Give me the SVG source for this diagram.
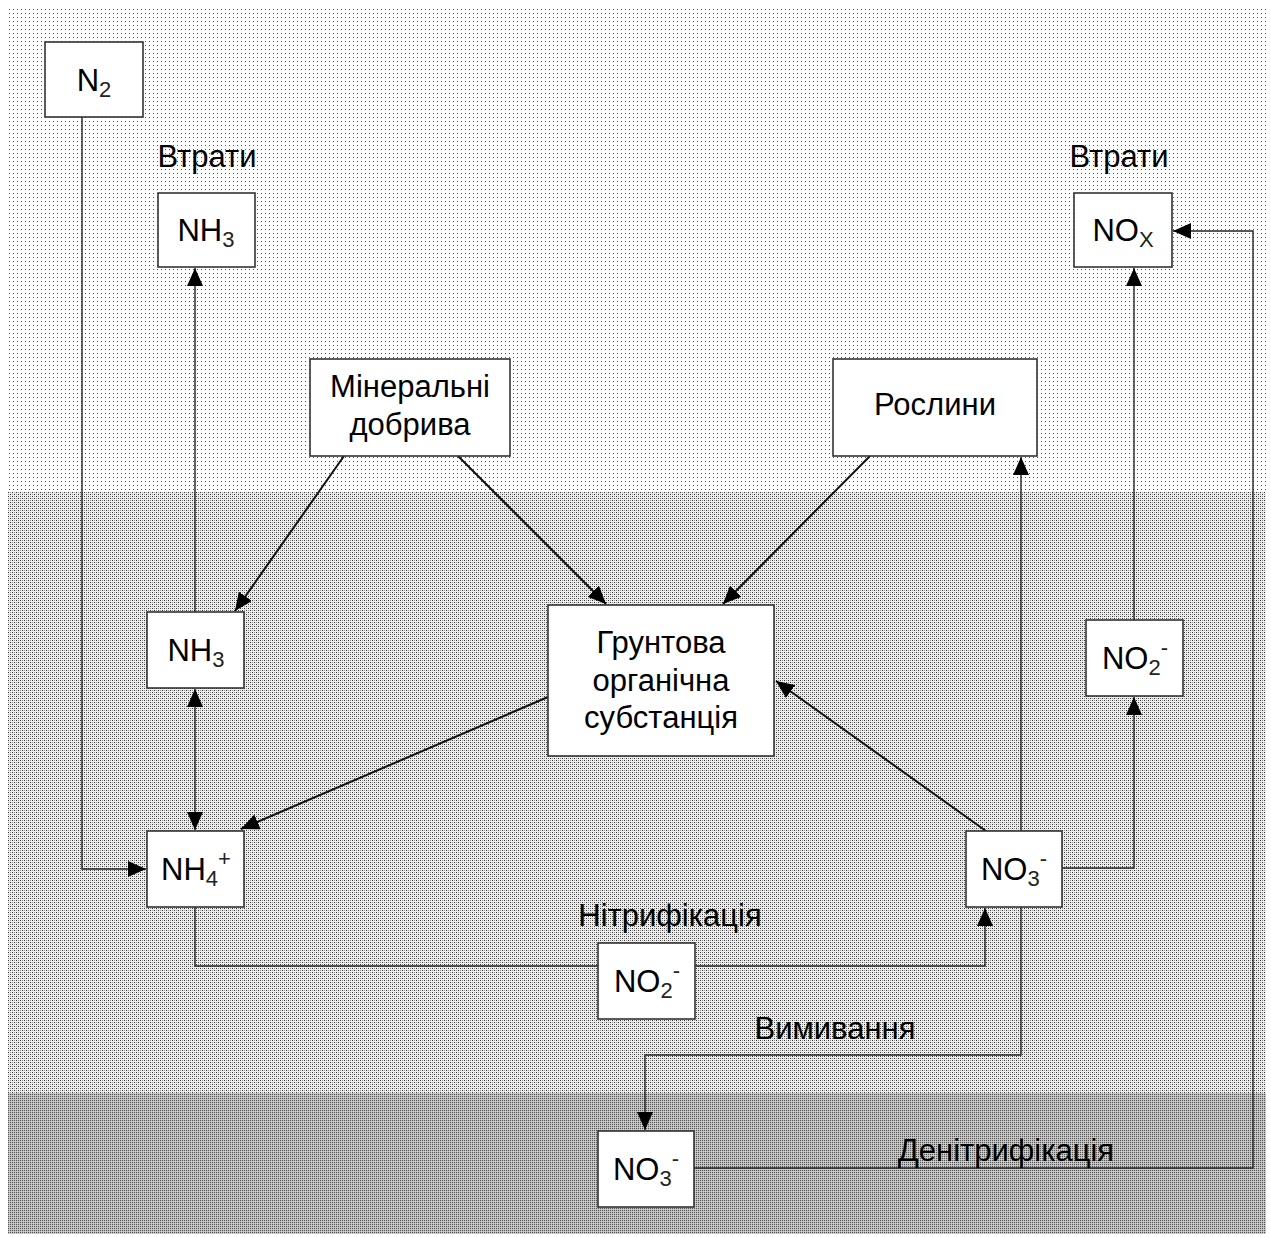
<svg xmlns="http://www.w3.org/2000/svg" width="1270" height="1238" viewBox="0 0 1270 1238">
<style>
.box{fill:#fff;stroke:#333;stroke-width:1.6}
.t{font-family:"Liberation Sans",Arial,sans-serif;font-size:31px;fill:#000}
.f{font-family:"Liberation Sans",Arial,sans-serif;font-size:31px;fill:#000}
.sub{font-size:22px;fill:#222}
.c{fill:none;stroke:#222;stroke-width:1.4}
.d{fill:none;stroke:#111;stroke-width:2}
</style>
<defs>
<pattern id="p1" width="4" height="4" patternUnits="userSpaceOnUse">
<rect width="4" height="4" fill="#fff"/><rect x="1" y="1" width="1" height="1" fill="#555"/>
</pattern>
<pattern id="p2" width="4" height="4" patternUnits="userSpaceOnUse">
<rect width="4" height="4" fill="#eeeeee"/><rect x="0" y="0" width="1" height="1" fill="#333"/><rect x="2" y="2" width="1" height="1" fill="#333"/><rect x="0" y="2" width="1" height="1" fill="#999"/><rect x="2" y="0" width="1" height="1" fill="#999"/>
</pattern>
<pattern id="p3" width="2" height="2" patternUnits="userSpaceOnUse">
<rect width="2" height="2" fill="#bdbdbd"/><rect x="0" y="0" width="1" height="1" fill="#555"/><rect x="1" y="1" width="1" height="1" fill="#d0d0d0"/>
</pattern>
<marker id="a" markerWidth="18" markerHeight="16" refX="18" refY="8" orient="auto-start-reverse" markerUnits="userSpaceOnUse">
<path d="M0,0 L18,8 L0,16 z" fill="#000"/>
</marker>
</defs>
<rect width="1270" height="1238" fill="#fff"/>
<rect x="8" y="8" width="1258" height="484" fill="url(#p1)"/>
<rect x="8" y="492" width="1258" height="601" fill="url(#p2)"/>
<rect x="8" y="1093" width="1258" height="141" fill="url(#p3)"/>

<g id="connectors">
<path class="c" d="M82,117 V869 H146" marker-end="url(#a)"/>
<path class="c" d="M195,612 V268" marker-end="url(#a)"/>
<path class="c" d="M195,689 V830" marker-start="url(#a)" marker-end="url(#a)"/>
<path class="d" d="M344,456 L235,611" marker-end="url(#a)"/>
<path class="d" d="M458,456 L606,604" marker-end="url(#a)"/>
<path class="d" d="M870,456 L723,604" marker-end="url(#a)"/>
<path class="d" d="M548,697 L241,829" marker-end="url(#a)"/>
<path class="d" d="M986,831 L776,681" marker-end="url(#a)"/>
<path class="c" d="M1021,831 V457" marker-end="url(#a)"/>
<path class="c" d="M1021,907 V1055 H645 V1130" marker-end="url(#a)"/>
<path class="c" d="M1062,868 H1134 V697" marker-end="url(#a)"/>
<path class="c" d="M1134,620 V268" marker-end="url(#a)"/>
<path class="c" d="M195,907 V966 H985 V908" marker-end="url(#a)"/>
<path class="c" d="M694,1168 H1253 V231 H1173" marker-end="url(#a)"/>
</g>

<g id="labels">
<text class="t" x="207" y="167" text-anchor="middle">Втрати</text>
<text class="t" x="1119" y="167" text-anchor="middle">Втрати</text>
<text class="t" x="670" y="926" text-anchor="middle">Нітрифікація</text>
<text class="t" x="835" y="1039" text-anchor="middle">Вимивання</text>
<text class="t" x="1006" y="1161" text-anchor="middle">Денітрифікація</text>
</g>

<g id="n2"><rect class="box" x="45" y="42" width="98" height="75"/>
<text class="f" x="94" y="91" text-anchor="middle">N<tspan class="sub" dy="6">2</tspan></text></g>

<g id="nh3-top"><rect class="box" x="158" y="193" width="97" height="74"/>
<text class="f" x="206" y="241" text-anchor="middle">NH<tspan class="sub" dy="6">3</tspan></text></g>

<g id="nox"><rect class="box" x="1074" y="193" width="98" height="74"/>
<text class="f" x="1123" y="241" text-anchor="middle">NO<tspan class="sub" dy="6">X</tspan></text></g>

<g id="mineral"><rect class="box" x="310" y="359" width="200" height="97"/>
<text class="t" x="410" y="397" text-anchor="middle">Мінеральні</text>
<text class="t" x="410" y="435" text-anchor="middle">добрива</text></g>

<g id="plants"><rect class="box" x="833" y="359" width="204" height="97"/>
<text class="t" x="935" y="415" text-anchor="middle">Рослини</text></g>

<g id="soil"><rect class="box" x="548" y="605" width="226" height="151"/>
<text class="t" x="661" y="653" text-anchor="middle">Грунтова</text>
<text class="t" x="661" y="691" text-anchor="middle">органічна</text>
<text class="t" x="661" y="728" text-anchor="middle">субстанція</text></g>

<g id="nh3-mid"><rect class="box" x="147" y="612" width="97" height="76"/>
<text class="f" x="196" y="661" text-anchor="middle">NH<tspan class="sub" dy="6">3</tspan></text></g>

<g id="nh4"><rect class="box" x="147" y="831" width="97" height="76"/>
<text class="f" x="196" y="880" text-anchor="middle">NH<tspan class="sub" dy="6">4</tspan><tspan class="sub" dy="-20">+</tspan></text></g>

<g id="no2-right"><rect class="box" x="1086" y="620" width="97" height="76"/>
<text class="f" x="1135" y="669" text-anchor="middle">NO<tspan class="sub" dy="6">2</tspan><tspan class="sub" dy="-20">-</tspan></text></g>

<g id="no3-mid"><rect class="box" x="966" y="831" width="96" height="76"/>
<text class="f" x="1014" y="880" text-anchor="middle">NO<tspan class="sub" dy="6">3</tspan><tspan class="sub" dy="-20">-</tspan></text></g>

<g id="no2-mid"><rect class="box" x="598" y="943" width="97" height="76"/>
<text class="f" x="647" y="992" text-anchor="middle">NO<tspan class="sub" dy="6">2</tspan><tspan class="sub" dy="-20">-</tspan></text></g>

<g id="no3-bottom"><rect class="box" x="598" y="1131" width="96" height="76"/>
<text class="f" x="646" y="1180" text-anchor="middle">NO<tspan class="sub" dy="6">3</tspan><tspan class="sub" dy="-20">-</tspan></text></g>
</svg>
